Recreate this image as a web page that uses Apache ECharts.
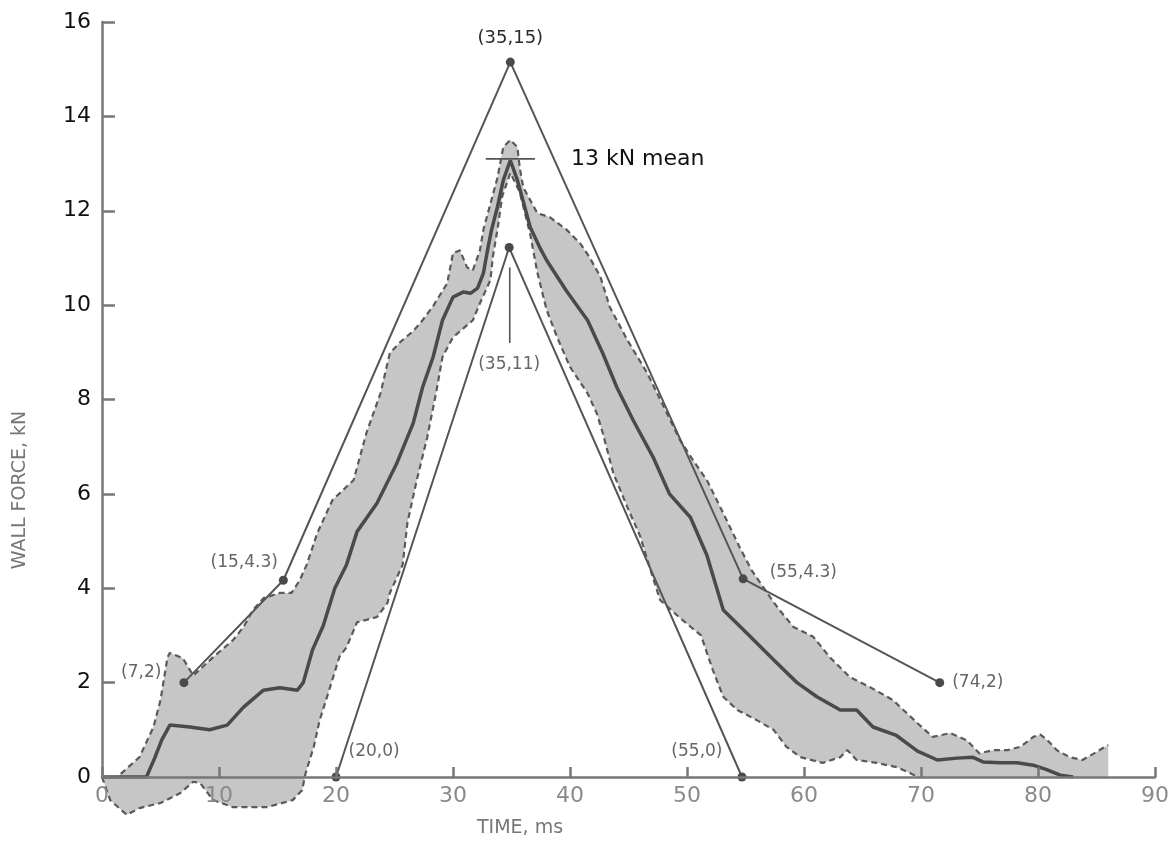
<!DOCTYPE html>
<html><head><meta charset="utf-8">
<script src="https://cdn.jsdelivr.net/npm/echarts@6/dist/echarts.min.js"></script>
<style>html,body{margin:0;padding:0;background:#fff}#c{width:1175px;height:864px}</style>
</head><body><div id="c"></div>
<script>
// Axis ticks
const xTicks = [0,10,20,30,40,50,60,70,80,90];
const yTicks = [0,2,4,6,8,10,12,14,16];

// Mean wall force curve (ms, kN)
const meanCurve = [[0,0],[3.8,0],[4.5,0.4],[5.1,0.78],[5.8,1.1],[7.5,1.06],[9.2,1.0],[10.7,1.1],[12.1,1.48],[13.8,1.84],[15.2,1.89],[16.7,1.84],[17.2,2.0],[18.0,2.7],[18.9,3.2],[19.9,4.0],[20.9,4.5],[21.8,5.2],[23.5,5.8],[25.2,6.65],[26.6,7.5],[27.4,8.26],[28.3,8.9],[29.1,9.68],[30.0,10.17],[30.9,10.28],[31.5,10.25],[32.1,10.36],[32.6,10.68],[33.0,11.23],[33.3,11.6],[33.8,12.08],[34.3,12.65],[34.9,13.07],[35.5,12.65],[36.0,12.2],[36.6,11.65],[37.4,11.23],[38.0,10.95],[39.7,10.3],[41.5,9.68],[42.8,8.98],[44.0,8.26],[45.4,7.56],[47.1,6.78],[48.5,6.0],[50.3,5.5],[51.7,4.7],[53.1,3.54],[55.1,3.05],[57.7,2.41],[59.4,2.0],[61.1,1.7],[63.1,1.42],[64.5,1.42],[65.9,1.06],[67.9,0.88],[69.7,0.55],[71.4,0.36],[73.1,0.4],[74.4,0.42],[75.3,0.32],[76.8,0.3],[78.2,0.3],[79.6,0.25],[80.8,0.15],[81.9,0.04],[83,0]];

// Upper envelope of the scatter band
const bandUpper = [[0,0],[1.3,0],[3.2,0.42],[4.4,1.06],[5.0,1.63],[5.6,2.54],[5.8,2.63],[6.9,2.52],[7.8,2.15],[9.5,2.54],[11.2,2.9],[12.1,3.18],[12.9,3.54],[13.8,3.79],[15.2,3.9],[16.2,3.9],[16.9,4.17],[17.5,4.5],[18.4,5.17],[19.7,5.87],[21.5,6.29],[22.6,7.29],[23.8,8.13],[24.6,8.98],[25.5,9.22],[26.6,9.45],[27.4,9.68],[28.3,9.98],[29.5,10.46],[30.0,11.1],[30.6,11.16],[31.2,10.8],[31.7,10.74],[32.3,11.16],[32.6,11.6],[33.8,12.7],[34.3,13.35],[34.9,13.5],[35.5,13.35],[35.7,12.92],[36.0,12.5],[37.2,11.95],[38.3,11.86],[39.7,11.6],[40.9,11.3],[41.7,11.0],[42.6,10.6],[43.4,9.96],[44.9,9.26],[46.6,8.56],[48.3,7.7],[49.4,7.14],[50.5,6.72],[51.7,6.29],[53.1,5.59],[54.5,4.87],[55.5,4.39],[56.5,4.03],[57.1,3.81],[57.9,3.54],[59.1,3.18],[60.8,2.97],[62.2,2.54],[63.9,2.12],[65.6,1.91],[67.6,1.63],[69.7,1.14],[71.0,0.85],[72.5,0.93],[73.9,0.78],[75.0,0.5],[76.2,0.57],[77.4,0.57],[78.5,0.64],[79.6,0.85],[80.2,0.9],[80.8,0.78],[81.6,0.57],[82.7,0.42],[83.8,0.36],[85.0,0.53],[86.0,0.68]];

// Lower envelope of the scatter band
const bandLower = [[0,0],[0.7,-0.49],[2.1,-0.8],[3.2,-0.66],[5.0,-0.55],[6.7,-0.34],[7.8,-0.1],[8.4,-0.13],[9.5,-0.49],[11.2,-0.64],[14.1,-0.64],[16.3,-0.49],[17.1,-0.28],[17.4,0.08],[18.1,0.64],[18.6,1.2],[19.5,1.91],[20.3,2.55],[20.9,2.75],[21.8,3.28],[22.6,3.33],[23.5,3.39],[24.4,3.69],[24.6,3.9],[25.7,4.5],[26.1,5.38],[26.9,6.29],[27.8,7.2],[28.6,8.2],[29.1,8.9],[30.0,9.32],[31.7,9.68],[32.3,10.04],[33.2,10.53],[33.4,11.02],[33.8,11.6],[34.2,12.3],[34.9,12.8],[35.7,12.4],[36.6,11.5],[37.2,10.7],[38.0,9.9],[38.9,9.32],[40.0,8.69],[41.5,8.13],[42.3,7.7],[42.8,7.29],[43.7,6.44],[44.9,5.72],[46.0,5.1],[46.8,4.45],[47.7,3.75],[49.5,3.35],[51.2,3.0],[52.2,2.27],[53.1,1.7],[54.3,1.42],[56.0,1.2],[57.4,1.0],[58.5,0.64],[59.7,0.42],[61.6,0.3],[63.1,0.42],[63.7,0.57],[64.5,0.36],[66.2,0.3],[67.9,0.21],[69.1,0.08],[69.7,0],[86,0]];

// Outer bound (piecewise) and inner bound (triangle)
const outerPts = [[7,2],[15.5,4.17],[34.9,15.15],[54.8,4.2],[71.6,2]];
const outerLabels = ['(7,2)','(15,4.3)','(35,15)','(55,4.3)','(74,2)'];
const innerPts = [[20,0],[34.8,11.22],[54.7,0]];
const innerLabels = ['(20,0)','(35,11)','(55,0)'];
// 13 kN mean marker and (35,11) leader
const meanMark = [[32.8,13.1],[37,13.1]];
const meanMarkText = '13 kN mean';
const leader = [[34.85,10.8],[34.85,9.2]];

const outerLabelCfg = [
  {position:'left', distance:18, offset:[0,-10]},
  {position:'left', distance:1, offset:[0,-18]},
  {position:'top', distance:10, offset:[0,0], color:'#2a2a2a', fontSize:18},
  {position:'right', distance:22, offset:[0,-6]},
  {position:'right', distance:8, offset:[0,0]}
];
const innerLabelCfg = [
  {position:'right', distance:8, offset:[0,-25]},
  {position:'bottom', distance:104, offset:[0,0]},
  {position:'left', distance:15, offset:[0,-25]}
];

const FONT = 'DejaVu Sans';
const lblBase = {show:true, fontFamily:FONT, fontSize:17, color:'#666'};

function withLabels(pts, texts, cfgs){
  return pts.map((p,i)=>({value:p, label:Object.assign({}, lblBase, cfgs[i], {formatter:texts[i]})}));
}

const chart = echarts.init(document.getElementById('c'), null, {renderer:'canvas'});
const axisColor = '#777';
chart.setOption({
  animation:false,
  backgroundColor:'#fff',
  grid:{left:102, right:20, top:22, bottom:87, containLabel:false},
  xAxis:{type:'value', z:10, min:xTicks[0], max:xTicks[xTicks.length-1], interval:10,
    axisLine:{show:true, onZero:false, lineStyle:{color:axisColor, width:2.5}},
    axisTick:{show:true, inside:true, length:10, lineStyle:{color:axisColor, width:2.5}},
    splitLine:{show:false},
    axisLabel:{color:'#8a8a8a', fontSize:22, fontFamily:FONT, margin:8}},
  yAxis:{type:'value', z:10, min:yTicks[0], max:yTicks[yTicks.length-1], interval:2,
    axisLine:{show:true, onZero:false, lineStyle:{color:axisColor, width:2.5}},
    axisTick:{show:true, inside:true, length:13, lineStyle:{color:axisColor, width:2.5}},
    splitLine:{show:false},
    axisLabel:{color:'#111', fontSize:22, fontFamily:FONT, margin:11}},
  graphic:[
    {type:'text', x:20, y:490, rotation:Math.PI/2, style:{text:'WALL FORCE, kN', fill:'#777', font:'19px "DejaVu Sans"', align:'center', verticalAlign:'middle'}},
    {type:'text', x:520, y:828, style:{text:'TIME, ms', fill:'#777', font:'19px "DejaVu Sans"', align:'center', verticalAlign:'middle'}}
  ],
  series:[
    {type:'custom', silent:true, clip:false, z:1, data:[0],
      renderItem:function(params, api){
        const pts = bandUpper.map(p=>api.coord(p)).concat(bandLower.slice().reverse().map(p=>api.coord(p)));
        return {type:'polygon', shape:{points:pts}, style:{fill:'#c6c6c6'}};
      }},
    {type:'line', data:bandUpper, symbol:'none', z:2, clip:false, lineStyle:{color:'#5a5a5a', width:2.2, type:[6,4]}},
    {type:'line', data:bandLower.slice(0, bandLower.length-1), symbol:'none', z:2, clip:false, lineStyle:{color:'#5a5a5a', width:2.2, type:[6,4]}},
    {type:'line', data:meanCurve, symbol:'none', z:3, lineStyle:{color:'#4a4a4a', width:3.5}},
    {type:'line', data:withLabels(outerPts, outerLabels, outerLabelCfg), symbol:'circle', symbolSize:9, showSymbol:true, z:4,
      itemStyle:{color:'#4a4a4a'}, lineStyle:{color:'#555', width:2}},
    {type:'line', data:withLabels(innerPts, innerLabels, innerLabelCfg), symbol:'circle', symbolSize:9, showSymbol:true, z:4, clip:false,
      itemStyle:{color:'#4a4a4a'}, lineStyle:{color:'#555', width:2}},
    {type:'line', data:leader, symbol:'none', z:4, lineStyle:{color:'#555', width:1.6}},
    {type:'line', data:meanMark, symbol:'none', z:4, lineStyle:{color:'#555', width:1.6},
      endLabel:{show:true, formatter:meanMarkText, distance:36, fontFamily:FONT, fontSize:22, color:'#111'}}
  ]
});
</script>
</body></html>
